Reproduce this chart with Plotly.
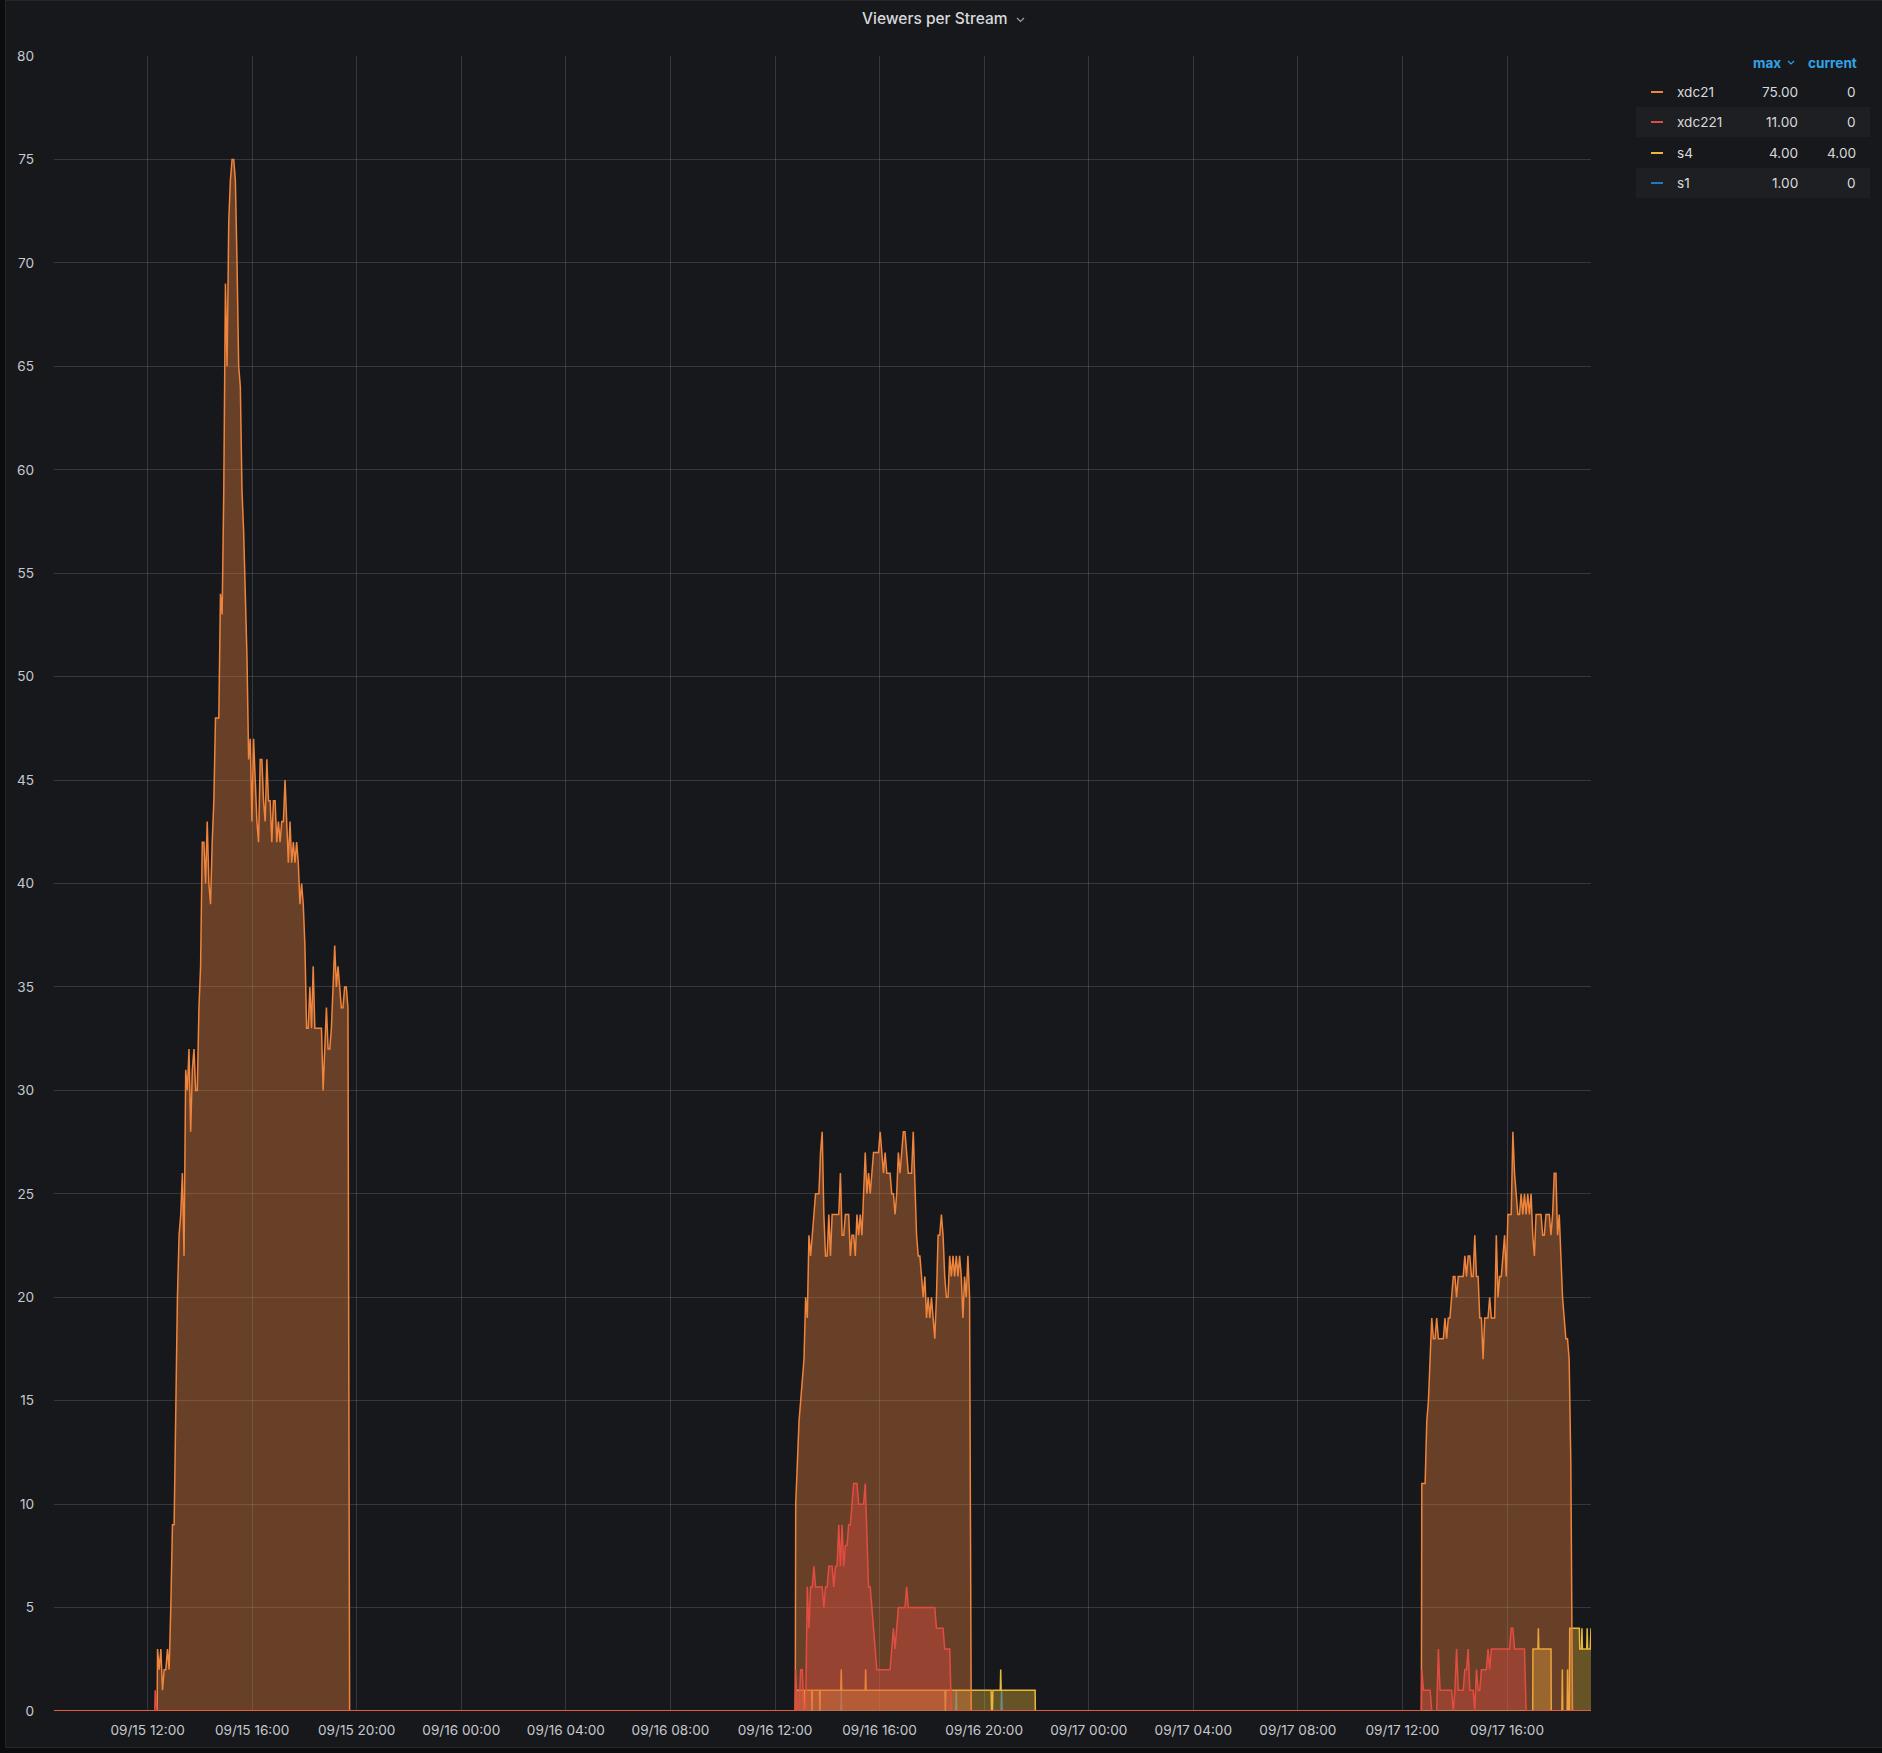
import pandas as pd
import plotly.graph_objects as go

# ---------------- canvas / plot geometry (pixels) ----------------
W, H = 1882, 1753
PL, PR, PT, PB = 54, 1591, 56, 1711

WINDOW_START = "2021-09-15 08:25:12"
WINDOW_END = "2021-09-17 19:12:47"
SAMPLE_SECONDS = 228

# ---------------- data ----------------
series_names = ["xdc21", "xdc221", "s4", "s1"]
series_colors = ["#EF843C", "#E24D42", "#EAB839", "#1F78C1"]
legend_max = ["75.00", "11.00", "4.00", "1.00"]
legend_current = ["0", "0", "4.00", "0"]

# xdc21: bursts of regular samples (first sample time, values)
xdc21_start_1 = "2021-09-15 12:22:52"
xdc21_values_1 = [3, 2, 3, 1, 2, 2, 3, 2, 5, 9,
                  9, 16, 20, 23, 24, 26, 22, 31, 30, 32,
                  28, 31, 32, 30, 30, 34, 36, 42, 42, 40,
                  43, 40, 39, 42, 44, 48, 48, 48, 54, 53,
                  59, 69, 65, 72, 74, 75, 75, 74, 70, 65,
                  64, 59, 57, 54, 51, 46, 47, 43, 47, 45,
                  43, 42, 46, 46, 44, 43, 46, 44, 44, 42,
                  44, 44, 42, 43, 42, 43, 43, 45, 43, 41,
                  43, 41, 42, 41, 42, 41, 39, 40, 39, 37,
                  33, 33, 35, 33, 36, 33, 33, 33, 33, 33,
                  30, 32, 34, 32, 32, 33, 35, 37, 35, 36,
                  35, 34, 34, 35, 35, 34]
xdc21_start_2 = "2021-09-16 12:47:30"
xdc21_values_2 = [10, 12, 14, 15, 16, 17, 20, 19, 23, 22,
                  23, 24, 25, 25, 25, 27, 28, 24, 22, 22,
                  24, 22, 24, 24, 24, 24, 24, 26, 23, 23,
                  24, 24, 24, 22, 23, 23, 22, 24, 23, 24,
                  23, 25, 27, 25, 26, 25, 26, 27, 27, 27,
                  27, 28, 27, 26, 27, 26, 26, 26, 25, 25,
                  24, 25, 27, 26, 27, 28, 28, 27, 26, 26,
                  26, 28, 25, 23, 22, 22, 21, 20, 21, 19,
                  20, 19, 20, 19, 18, 20, 23, 23, 24, 23,
                  21, 20, 20, 22, 21, 22, 21, 22, 21, 22,
                  21, 19, 21, 20, 22, 20]
xdc21_start_3 = "2021-09-17 12:44:28"
xdc21_values_3 = [11, 11, 11, 14, 15, 17, 19, 18, 18, 19,
                  18, 18, 18, 18, 19, 18, 19, 19, 20, 21,
                  21, 20, 21, 21, 21, 21, 22, 21, 22, 22,
                  21, 21, 23, 21, 21, 19, 19, 17, 19, 19,
                  19, 20, 19, 19, 19, 23, 20, 21, 21, 22,
                  23, 21, 24, 24, 24, 28, 26, 25, 24, 24,
                  25, 24, 25, 24, 25, 24, 25, 23, 22, 24,
                  24, 24, 24, 23, 23, 24, 24, 24, 23, 24,
                  26, 26, 23, 24, 22, 20, 19, 18, 18, 17, 12]

# xdc221 bursts
xdc221_start_1 = "2021-09-15 12:17:30"
xdc221_values_1 = [1]
xdc221_start_2 = "2021-09-16 12:47:30"
xdc221_values_2 = [2, 0, 0, 2, 2, 0, 0, 6, 4, 6,
                   6, 7, 6, 6, 6, 6, 6, 5, 6, 6,
                   7, 7, 7, 6, 7, 7, 9, 7, 9, 7,
                   8, 8, 9, 9, 10, 11, 11, 11, 10, 10,
                   10, 10, 11, 8, 6, 6, 5, 4, 3, 2,
                   2, 2, 2, 2, 2, 2, 2, 2, 3, 4,
                   3, 4, 5, 5, 5, 5, 5, 6, 5, 5,
                   5, 5, 5, 5, 5, 5, 5, 5, 5, 5,
                   5, 5, 5, 5, 5, 4, 4, 4, 4, 4,
                   3, 3, 3, 3]
xdc221_start_3 = "2021-09-17 12:44:28"
xdc221_values_3 = [2, 1, 1, 1, 1, 1, 0, 0, 0, 0,
                   3, 1, 1, 1, 1, 1, 1, 1, 1, 0,
                   1, 3, 1, 1, 1, 1, 2, 2, 3, 1,
                   1, 1, 0, 2, 1, 1, 2, 2, 2, 2,
                   3, 2, 3, 3, 3, 3, 3, 3, 3, 3,
                   3, 3, 3, 3, 4, 4, 3, 3, 3, 3,
                   3, 3, 3]

# s4: breakpoints
s4_times = ["2021-09-15 08:25:12", "2021-09-16 12:47:00", "2021-09-16 12:47:30",
            "2021-09-16 13:05:00", "2021-09-16 13:06:00", "2021-09-16 13:07:00",
            "2021-09-16 13:24:00", "2021-09-16 13:25:00", "2021-09-16 13:26:00",
            "2021-09-16 13:42:00", "2021-09-16 13:43:00", "2021-09-16 13:44:00",
            "2021-09-16 14:31:00", "2021-09-16 14:32:00", "2021-09-16 14:33:00",
            "2021-09-16 15:27:00", "2021-09-16 15:28:00", "2021-09-16 15:29:00",
            "2021-09-16 18:30:00", "2021-09-16 18:31:00", "2021-09-16 18:32:00",
            "2021-09-16 20:16:00", "2021-09-16 20:17:00", "2021-09-16 20:19:00", "2021-09-16 20:20:00",
            "2021-09-16 20:37:00", "2021-09-16 20:38:00", "2021-09-16 20:39:00",
            "2021-09-16 21:57:00", "2021-09-16 21:57:30",
            "2021-09-17 16:59:00", "2021-09-17 16:59:30", "2021-09-17 17:11:00",
            "2021-09-17 17:12:00", "2021-09-17 17:13:00", "2021-09-17 17:41:00", "2021-09-17 17:41:30",
            "2021-09-17 18:06:00", "2021-09-17 18:07:00", "2021-09-17 18:08:00",
            "2021-09-17 18:18:00", "2021-09-17 18:19:00", "2021-09-17 18:20:00",
            "2021-09-17 18:23:00", "2021-09-17 18:24:00", "2021-09-17 18:46:00",
            "2021-09-17 18:47:00", "2021-09-17 18:51:00", "2021-09-17 18:52:00",
            "2021-09-17 18:53:00", "2021-09-17 19:03:00", "2021-09-17 19:04:00",
            "2021-09-17 19:05:00", "2021-09-17 19:11:00", "2021-09-17 19:12:47"]
s4_values = [0, 0, 1,
             1, 0, 1,
             1, 0, 1,
             1, 0, 1,
             1, 2, 1,
             1, 2, 1,
             1, 0, 1,
             1, 0, 0, 1,
             1, 2, 1,
             1, 0,
             0, 3, 3,
             4, 3, 3, 0,
             0, 2, 0,
             0, 2, 0,
             0, 4, 4,
             3, 3, 4,
             3, 3, 4,
             3, 3, 4]

# s1: breakpoints
s1_times = ["2021-09-15 08:25:12",
            "2021-09-16 14:31:00", "2021-09-16 14:32:00", "2021-09-16 14:33:00",
            "2021-09-16 18:55:00", "2021-09-16 18:56:00", "2021-09-16 18:57:00",
            "2021-09-16 20:39:00", "2021-09-16 20:40:00", "2021-09-16 20:41:00",
            "2021-09-17 19:12:47"]
s1_values = [0, 0, 1, 0, 0, 1, 0, 0, 1, 0, 0]


def burst_series(bursts):
    step = pd.Timedelta(seconds=SAMPLE_SECONDS)
    xs, ys = [pd.Timestamp(WINDOW_START)], [0]
    for start, vals in bursts:
        t0 = pd.Timestamp(start)
        xs.append(t0 - pd.Timedelta(seconds=60)); ys.append(0)
        for i, v in enumerate(vals):
            xs.append(t0 + i * step); ys.append(v)
        xs.append(t0 + len(vals) * step); ys.append(0)
    xs.append(pd.Timestamp(WINDOW_END)); ys.append(0)
    return xs, ys


xdc21_x, xdc21_y = burst_series([(xdc21_start_1, xdc21_values_1),
                                 (xdc21_start_2, xdc21_values_2),
                                 (xdc21_start_3, xdc21_values_3)])
xdc221_x, xdc221_y = burst_series([(xdc221_start_1, xdc221_values_1),
                                   (xdc221_start_2, xdc221_values_2),
                                   (xdc221_start_3, xdc221_values_3)])
s4_x, s4_y = pd.to_datetime(s4_times), s4_values
s1_x, s1_y = pd.to_datetime(s1_times), s1_values


def rgba(hexc, a):
    h = hexc.lstrip("#")
    return f"rgba({int(h[0:2],16)},{int(h[2:4],16)},{int(h[4:6],16)},{a})"


PANEL_BG = "#16181c"
FONT = "Inter, Roboto, sans-serif"

fig = go.Figure()
draw = [("s1", s1_x, s1_y), ("s4", s4_x, s4_y),
        ("xdc21", xdc21_x, xdc21_y), ("xdc221", xdc221_x, xdc221_y)]
for name, xs, ys in draw:
    col = series_colors[series_names.index(name)]
    fig.add_trace(go.Scatter(x=xs, y=ys, mode="lines", name=name,
                             line=dict(color=col, width=1.5),
                             fill="tozeroy", fillcolor=rgba(col, 0.38),
                             showlegend=False, hoverinfo="skip"))


def PX(x):
    return (x - PL) / (PR - PL)


def PY(y):
    return (PB - y) / (PB - PT)


shapes = []
annotations = []

# outer canvas strips and panel border
shapes.append(dict(type="rect", xref="paper", yref="paper", x0=PX(0), x1=PX(5), y0=PY(H), y1=PY(0),
                   fillcolor="#0b0c0e", line=dict(width=0), layer="below"))
shapes.append(dict(type="rect", xref="paper", yref="paper", x0=PX(0), x1=PX(W), y0=PY(H), y1=PY(1748),
                   fillcolor="#0b0c0e", line=dict(width=0), layer="below"))
shapes.append(dict(type="rect", xref="paper", yref="paper", x0=PX(5.5), x1=PX(W + 2), y0=PY(1747.5), y1=PY(0.5),
                   fillcolor="rgba(0,0,0,0)", line=dict(width=1, color="#24262a"), layer="below"))

# title
annotations.append(dict(text="Viewers per Stream", xref="paper", yref="paper",
                        x=PX(935), y=PY(19), xanchor="center", yanchor="middle", showarrow=False,
                        font=dict(family=FONT, size=15.5, color="#d8d9da", weight=500)))
shapes.append(dict(type="path", xref="paper", yref="paper",
                   path=f"M {PX(1017)},{PY(18)} L {PX(1020.5)},{PY(21.5)} L {PX(1024)},{PY(18)}",
                   line=dict(color="#9fa1a5", width=1.2)))

# legend table
HEAD_Y = 63
ROW_Y = [92, 122, 153, 183]
BLUE = "#33a2e5"
LFS = 13.6
annotations.append(dict(text="<b>max</b>", xref="paper", yref="paper", x=PX(1783), y=PY(HEAD_Y),
                        xanchor="right", yanchor="middle", showarrow=False,
                        font=dict(family=FONT, size=LFS, color=BLUE)))
shapes.append(dict(type="path", xref="paper", yref="paper",
                   path=f"M {PX(1788)},{PY(61)} L {PX(1791)},{PY(64)} L {PX(1794)},{PY(61)}",
                   line=dict(color=BLUE, width=1.2)))
annotations.append(dict(text="<b>current</b>", xref="paper", yref="paper", x=PX(1859), y=PY(HEAD_Y),
                        xanchor="right", yanchor="middle", showarrow=False,
                        font=dict(family=FONT, size=LFS, color=BLUE)))
for i, name in enumerate(series_names):
    yc = ROW_Y[i]
    if i % 2 == 1:
        shapes.append(dict(type="rect", xref="paper", yref="paper", x0=PX(1636), x1=PX(1870),
                           y0=PY(yc + 15), y1=PY(yc - 15), fillcolor="#1d1f23",
                           line=dict(width=0), layer="below"))
    shapes.append(dict(type="line", xref="paper", yref="paper", x0=PX(1651), x1=PX(1663),
                       y0=PY(yc), y1=PY(yc), line=dict(color=series_colors[i], width=2)))
    annotations.append(dict(text=name, xref="paper", yref="paper", x=PX(1675), y=PY(yc),
                            xanchor="left", yanchor="middle", showarrow=False,
                            font=dict(family=FONT, size=LFS, color="#d8d9da")))
    annotations.append(dict(text=legend_max[i], xref="paper", yref="paper", x=PX(1800), y=PY(yc),
                            xanchor="right", yanchor="middle", showarrow=False,
                            font=dict(family=FONT, size=LFS, color="#d8d9da")))
    annotations.append(dict(text=legend_current[i], xref="paper", yref="paper", x=PX(1858), y=PY(yc),
                            xanchor="right", yanchor="middle", showarrow=False,
                            font=dict(family=FONT, size=LFS, color="#d8d9da")))

GRID = "rgba(220,222,230,0.16)"
fig.update_layout(
    width=W, height=H,
    margin=dict(l=PL, r=W - PR, t=PT, b=H - PB, pad=0),
    paper_bgcolor=PANEL_BG, plot_bgcolor=PANEL_BG,
    font=dict(family=FONT, size=13.6, color="#c7c8cc"),
    hovermode=False,
    shapes=shapes, annotations=annotations,
    xaxis=dict(type="date", range=[WINDOW_START, WINDOW_END],
               tick0="2021-09-15 00:00", dtick=4 * 3600 * 1000, tickformat="%m/%d %H:%M",
               showgrid=True, gridcolor=GRID, gridwidth=1, zeroline=False, showline=False,
               ticks="", ticklabelstandoff=9, tickfont=dict(family=FONT, size=13.6, color="#c7c8cc")),
    yaxis=dict(range=[0, 80], tick0=0, dtick=5, showgrid=True, gridcolor=GRID, gridwidth=1,
               zeroline=False, showline=False, ticks="", ticklabelstandoff=19,
               tickfont=dict(family=FONT, size=13.6, color="#c7c8cc")),
)

fig.write_html("out.html")
